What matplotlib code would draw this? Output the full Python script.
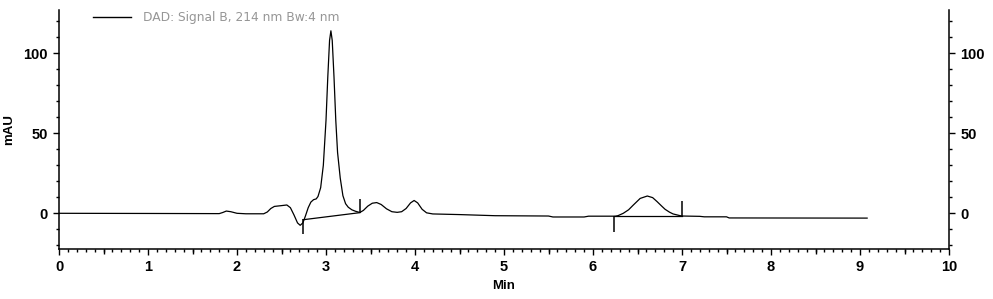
"""
DAD chromatogram, signal B 214 nm, with integration baselines.
"""
import matplotlib
matplotlib.use('Agg')
import matplotlib.pyplot as plt
from matplotlib.ticker import MultipleLocator, FixedLocator

plt.rcParams['font.family'] = ['Liberation Sans', 'DejaVu Sans']

# Trace (retention time in min, response in mAU)
time_min = [
    0.00, 1.00, 1.80, 1.84, 1.88, 1.93, 2.00, 2.10, 2.30, 2.34, 2.38, 2.42,
    2.50, 2.56, 2.60, 2.64, 2.68, 2.71, 2.74, 2.77, 2.80, 2.83, 2.86, 2.89,
    2.91, 2.94, 2.97, 3.00, 3.02, 3.04, 3.055, 3.07, 3.09, 3.11, 3.13, 3.16,
    3.19, 3.22, 3.25, 3.29, 3.33, 3.38, 3.42, 3.47, 3.52, 3.57, 3.62, 3.68,
    3.74, 3.80, 3.85, 3.90, 3.95, 3.99, 4.03, 4.08, 4.13, 4.20, 4.35, 4.50,
    4.90, 5.50, 5.55, 5.90, 5.95, 6.25, 6.28, 6.34, 6.40, 6.45, 6.53, 6.61,
    6.67, 6.72, 6.77, 6.81, 6.86, 6.90, 6.98, 7.00, 7.20, 7.25, 7.50, 7.53,
    9.08,
]
signal_mau = [
    0.0, -0.1, -0.2, 0.5, 1.4, 1.0, 0.0, -0.3, -0.3, 0.8, 3.0, 4.3,
    4.8, 5.2, 3.5, -1.0, -6.0, -7.5, -6.0, -1.5, 3.5, 7.0, 8.5, 9.0,
    10.5, 16.0, 30.0, 58.0, 85.0, 108.0, 114.0, 108.0, 85.0, 58.0, 38.0, 22.0,
    11.0, 6.0, 3.8, 2.2, 1.3, 0.5, 1.8, 4.5, 6.3, 6.7, 5.5, 2.8,
    1.0, 0.6, 1.0, 3.0, 6.5, 8.0, 6.5, 2.5, 0.3, -0.4, -0.6, -0.8,
    -1.5, -1.7, -2.3, -2.3, -1.8, -1.8, -1.5, 0.0, 2.2, 5.0, 9.3, 10.8,
    9.8, 7.3, 4.6, 2.5, 0.7, -0.4, -1.5, -1.7, -1.9, -2.2, -2.2, -2.9,
    -3.0,
]

# Integration baselines (start/end time, start/end value)
base_t0 = [2.745, 6.24]
base_t1 = [3.38, 7.00]
base_v0 = [-4.0, -1.9]
base_v1 = [0.4, -1.9]

# Peak start/stop markers (time, low, high)
mark_t = [2.745, 3.38, 6.24, 7.00]
mark_lo = [-12.8, 0.4, -11.8, -1.9]
mark_hi = [-3.3, 9.2, -1.9, 7.7]

fig = plt.figure(figsize=(9.93, 2.99), dpi=100)
ax = fig.add_axes([59 / 993, 50 / 299, 890 / 993, 239 / 299])

ax.plot(time_min, signal_mau, color='black', lw=0.9,
        label='DAD: Signal B, 214 nm Bw:4 nm')
for t0, t1, v0, v1 in zip(base_t0, base_t1, base_v0, base_v1):
    ax.plot([t0, t1], [v0, v1], color='black', lw=0.9)
ax.vlines(mark_t, mark_lo, mark_hi, color='black', lw=1.1)

ax.set_xlim(0, 10)
ax.set_ylim(-22.3, 127)

ax.spines['top'].set_visible(False)
for s in ('left', 'right', 'bottom'):
    ax.spines[s].set_linewidth(1.1)

ax.xaxis.set_major_locator(MultipleLocator(1))
ax.xaxis.set_minor_locator(MultipleLocator(0.1))
ax.yaxis.set_major_locator(MultipleLocator(50))
ax.yaxis.set_minor_locator(MultipleLocator(10))
ax.tick_params(which='both', direction='out', right=True, labelright=True,
               width=1.0, labelsize=10.5)
ax.tick_params(which='major', length=4, pad=4)
ax.tick_params(which='minor', length=2.5)
for t in ax.yaxis.get_major_ticks():
    t.label1.set_fontweight('bold')
    t.label2.set_fontweight('bold')
for t in ax.xaxis.get_major_ticks():
    t.label1.set_fontweight('bold')

# half-minute ticks are a bit longer
half = ax.secondary_xaxis('bottom')
half.xaxis.set_major_locator(FixedLocator([i + 0.5 for i in range(10)]))
half.tick_params(direction='out', length=3.3, width=1.0, labelbottom=False)
half.spines['bottom'].set_visible(False)

ax.set_xlabel('Min', fontsize=9.5, fontweight='bold', labelpad=4)
ax.set_ylabel('mAU', fontsize=9.5, fontweight='bold')
ax.yaxis.set_label_coords(-0.049, 0.5)

leg = ax.legend(loc='center left', bbox_to_anchor=(0.038, 0.967),
                frameon=False, prop={'family': 'DejaVu Sans', 'size': 8.8},
                handlelength=3.1, handletextpad=1.0, borderpad=0,
                borderaxespad=0, labelcolor='#969696')
leg.get_lines()[0].set_linewidth(1.0)

fig.savefig('out.png', dpi=100)
